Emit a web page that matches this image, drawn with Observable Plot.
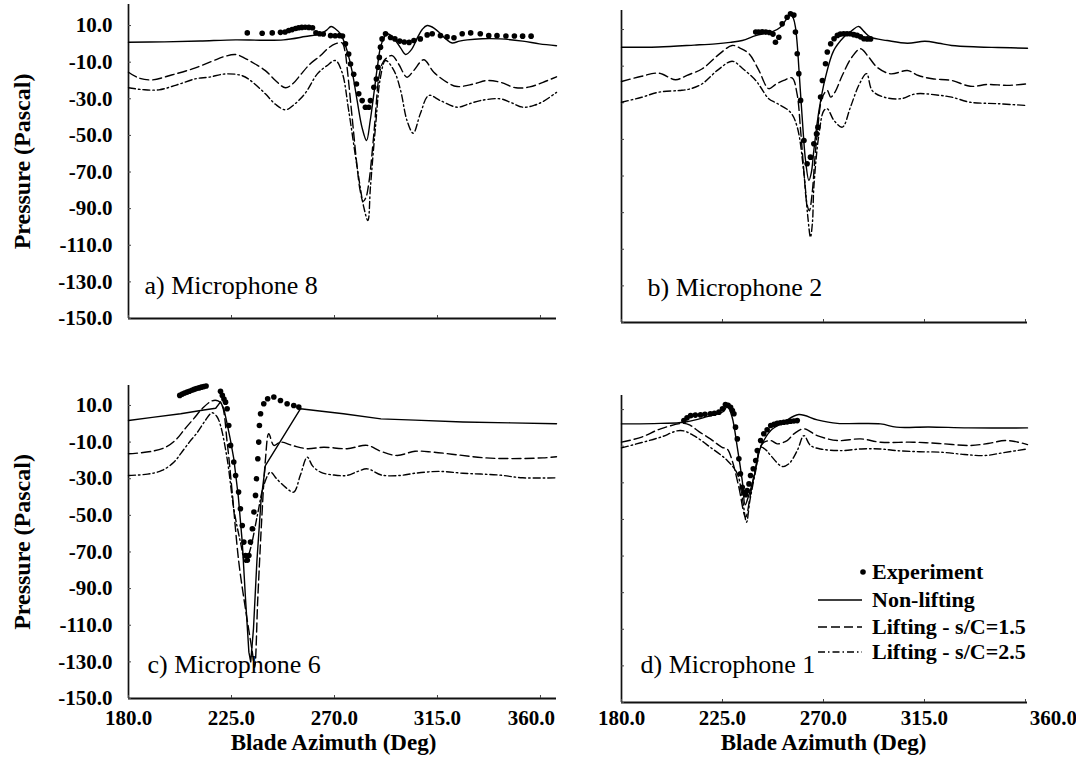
<!DOCTYPE html>
<html>
<head>
<meta charset="utf-8">
<script src="https://cdn.jsdelivr.net/npm/d3@7"></script>
<script src="https://cdn.jsdelivr.net/npm/@observablehq/plot@0.6"></script>
<style>
  body { margin: 0; background: #fff; }
  #root { position: relative; width: 1076px; height: 765px; overflow: hidden; background: #fff;
          font-family: "Liberation Serif", "Times New Roman", serif; }
  .panel { position: absolute; }
  .leg { position: absolute; font-size: 22px; font-weight: bold; color: #000; white-space: nowrap; line-height: 1; }
</style>
</head>
<body>
<div id="root"></div>
<script>
// ---------- axis ticks & labels ----------
const xTicks = [180, 225, 270, 315, 360];
const yTicks = [10, -10, -30, -50, -70, -90, -110, -130, -150];
const xEndLeft = 367.0;   // left-column axes run a little past 360
const xEndRight = 360.9;
const seriesNames = ["Experiment", "Non-lifting", "Lifting - s/C=1.5", "Lifting - s/C=2.5"];
const panelLabels = ["a) Microphone 8", "b) Microphone 2", "c) Microphone 6", "d) Microphone 1"];
const xTitle = "Blade Azimuth (Deg)";
const yTitle = "Pressure (Pascal)";

// ---------- a) Microphone 8  ([azimuth deg, pressure Pa]) ----------
const mic8Exp = [[231.9,6],[238.4,5.8],[242.8,6],[246.4,6.3],[248.4,6.5],[250.0,7.3],[251.5,7.8],[253.0,8.4],[254.3,8.8],[255.7,9],[257.2,9.1],[258.8,9],[260.4,8.8],[261.9,6],[263.5,5.5],[265.1,5.4],[268.3,4.5],[270.3,4.4],[272.2,4.5],[273.5,4.3],[274.8,0],[276.2,-5.5],[277.0,-11],[278.4,-16.6],[279.6,-21.9],[280.6,-27.3],[282.1,-31],[283.5,-34.6],[285.0,-34.6],[285.7,-31],[287.2,-23.7],[288.3,-19.2],[289.0,-12.8],[289.6,-7.4],[290.1,-1.8],[290.8,2.7],[292.3,5.5],[294.5,3.5],[296.4,2.7],[298.5,1.5],[300.5,1],[302.6,0.8],[304.7,1.8],[307.5,2.7],[310.5,4.9],[312.7,5.5],[316.3,4.5],[319.2,3.8],[322.2,3.3],[325.8,5.5],[329.5,6],[333.7,5.5],[337.4,4.5],[341.0,4.5],[344.9,4.3],[348.6,4.3],[352.2,4.2],[355.9,4.2]];
const mic8NonLift = [[180,0.9],[195.7,1.1],[211.3,1.6],[226.8,2.2],[237.4,2.0],[247.8,2.2],[257.2,4.0],[263.9,5.5],[266.6,7.5],[268.5,9.5],[270.6,8.0],[272.6,5.5],[274.1,1.5],[275.5,-3.7],[277.7,-15],[279.9,-31],[282.1,-46],[284.0,-52.8],[285.6,-42],[287.2,-27.3],[288.7,-13],[290.1,-1.8],[291.7,3.5],[293.0,5.5],[294.8,4.5],[296.7,1.8],[299.0,-2.5],[301.1,-5.8],[303.7,-3],[306.3,3.5],[308.4,8],[310.5,10],[313.6,8.5],[316.3,5.5],[318.8,2.5],[321.4,0.5],[324.6,1.5],[328.0,2.2],[334.5,2.8],[342.5,2.7],[352.2,1.5],[359.5,0],[367.0,-1]];
const mic8Lift15 = [[180,-15.5],[184.2,-18.5],[190.3,-19.7],[198.8,-17],[207.9,-13.7],[216.5,-9.5],[221.7,-7],[226.8,-5.8],[231.1,-8],[235.3,-11],[239.8,-14.6],[244.2,-20],[248.6,-24],[252.0,-21.5],[255.1,-17],[259.3,-11],[263.9,-6.4],[267.1,-2.5],[270.3,0],[273.3,0.5],[274.6,-4],[275.5,-12.8],[277.7,-40],[279.9,-67.4],[281.2,-80],[282.5,-86],[283.7,-84],[285.0,-76],[287.2,-49.2],[289.4,-18.2],[290.8,-11],[292.3,-8.2],[295.2,-6.4],[298.0,-11],[301.7,-18.2],[304.6,-14.6],[309.0,-8.7],[313.4,-15.5],[319.2,-21],[323.6,-23.3],[330.8,-21.9],[336.7,-20],[342.5,-21],[349.3,-24],[355.3,-23.5],[361.1,-21],[367.0,-18]];
const mic8Lift25 = [[180,-24],[186.3,-25],[193.3,-25.1],[200.9,-22.5],[209.5,-19],[215.1,-18.2],[222.4,-16.4],[229.7,-17.4],[234.3,-21],[239.8,-27.3],[244.2,-33],[248.6,-36],[252.5,-33],[257.2,-27],[262.5,-16.4],[266.6,-12],[270.4,-9.1],[273.3,-15.5],[276.2,-36.4],[279.9,-67.4],[282.8,-89.2],[284.6,-96.5],[285.7,-78.3],[287.9,-45.5],[290.1,-18.2],[292.3,-9.1],[296.0,-14.6],[298.9,-25.5],[301.7,-41.9],[304.4,-48.8],[307.5,-38.2],[311.2,-28.2],[316.3,-31],[323.6,-34.6],[328.2,-33],[333.7,-31],[342.5,-30],[347.0,-32],[352.3,-34.6],[357.4,-33.5],[361.1,-31.5],[367.0,-26.5]];

// ---------- b) Microphone 2 ----------
const mic2Exp = [[239.8,8.6],[241.1,8.6],[242.7,8.8],[244.3,8.6],[245.9,8.4],[247.5,7.5],[248.6,3.1],[250.1,5.8],[251.6,13.1],[253.8,16.7],[255.3,18.6],[256.8,17.9],[257.5,8.6],[258.3,-3.2],[259.0,-14.1],[259.8,-28.7],[261.3,-50.6],[262.7,-63.3],[264.2,-59.7],[265.7,-52.4],[266.9,-47],[267.5,-43.3],[268.7,-26.9],[269.5,-17.8],[270.9,-8.7],[271.7,-2.3],[273.2,2.2],[274.7,5],[276.2,6.8],[277.5,7.5],[279.0,7.7],[280.5,7.7],[282.0,7.7],[283.5,7.2],[285.0,6.8],[286.5,6],[288.0,5],[289.5,4.9],[291.0,4.9]];
const mic2NonLift = [[180,0.3],[196.4,0.5],[212.4,1.5],[221.9,2.2],[228.4,3],[233.8,4],[239.8,6.7],[244.3,8],[247.5,9],[250.8,11.3],[253.4,15.5],[255.3,18.2],[256.6,16],[257.5,11.3],[258.3,2],[259.0,-10.6],[260.5,-37.9],[262.0,-61.5],[263.5,-72.4],[264.6,-68],[265.7,-56],[268.0,-34.2],[270.9,-16],[274.6,-1.4],[279.0,5.8],[282.7,9.5],[285.7,11.7],[288.0,9],[291.0,5.8],[298.4,4],[307.4,2.5],[315.2,3.6],[321.4,2.5],[327.1,1.3],[338.9,0.5],[347.7,0.2],[360.9,-0.2]];
const mic2Lift15 = [[180,-18.4],[189.0,-15.5],[196.6,-13.8],[204.1,-17.4],[209.2,-15],[216.0,-11.4],[223.0,-4],[229.3,1.3],[232.6,0],[236.8,-3.2],[241.1,-12],[245.6,-22.3],[248.6,-20],[252.3,-17.8],[256.0,-16.4],[258.2,-25],[259.8,-45],[261.3,-68],[262.6,-85],[263.7,-89],[264.9,-80],[266.2,-60],[267.2,-47],[269.5,-26.9],[271.7,-23.3],[273.2,-26.9],[275.2,-24],[278.4,-15],[282.7,-5],[286.5,-0.5],[290.1,-5],[293.9,-10.6],[299.9,-14.2],[307.4,-12.4],[312.3,-15.1],[318.5,-16.9],[327.1,-17.8],[335.4,-21],[343.3,-20],[352.1,-20.5],[360.9,-19.6]];
const mic2Lift25 = [[180,-29.7],[189.0,-27],[196.6,-24.2],[205.6,-23.3],[210.3,-22.5],[216.0,-19.6],[223.0,-12],[229.3,-7.3],[233.7,-11],[239.8,-17.8],[242.0,-21.5],[245.6,-27.8],[249.4,-30.4],[255.3,-35.2],[258.3,-43.3],[261.3,-68.8],[263.0,-92],[264.2,-103.4],[265.1,-95],[265.7,-76.1],[268.0,-47],[270.2,-34.2],[271.7,-33.3],[274.7,-39.7],[278.4,-43.3],[282.0,-32.4],[285.9,-20],[289.2,-14.1],[291.7,-23.3],[296.9,-26.9],[304.4,-27.8],[311.2,-25.1],[322.2,-26],[327.1,-26.9],[335.4,-29.7],[347.7,-30.5],[360.9,-31.5]];

// ---------- c) Microphone 6 ----------
const mic6Exp = [[202.4,15.5],[203.5,16.2],[204.5,16.8],[205.6,17.3],[206.6,17.8],[207.7,18.3],[208.7,18.8],[209.7,19.2],[210.8,19.6],[211.8,20],[212.9,20.3],[213.9,20.6],[220.2,17.7],[221.0,15.5],[221.7,13.5],[222.4,11.8],[223.1,8.2],[223.8,-0.9],[224.6,-11.8],[226.0,-20.9],[226.8,-28.2],[228.1,-37.3],[228.9,-46.4],[229.7,-55.5],[230.4,-64.6],[231.1,-71.9],[231.9,-74.5],[232.6,-71.9],[233.3,-64.6],[234.1,-57.3],[234.8,-48.2],[235.5,-39.1],[235.9,-30],[236.5,-19.1],[236.9,-10],[237.2,-0.9],[237.7,5.5],[239.1,10.9],[240.8,13.7],[243.5,14.6],[246.4,12.7],[249.3,10.9],[252.2,10],[254.4,9.1]];
const mic6NonLift = [[180,1.8],[190.4,3.5],[202.8,5.5],[212.9,7.5],[218.1,8.5],[220.2,12],[221.7,8],[223.1,0],[224.4,-8],[226.0,-19],[228.0,-40],[229.7,-64.6],[231.1,-95],[232.6,-124.7],[233.4,-130],[234.6,-112],[236.1,-75],[237.9,-42],[239.8,-22.8],[255.1,8.2],[263.5,7],[273.9,5.5],[290.3,2.7],[305.2,2],[326.1,1],[347.0,0.5],[367.0,0]];
const mic6Lift15 = [[180,-16.4],[190.4,-15],[196.7,-12.5],[200.9,-8.5],[204.5,-3],[208.5,2.8],[212.4,8.5],[216.5,12.5],[219.1,12.5],[220.9,10],[223.1,-10],[225.3,-37.3],[228.2,-75.6],[231.1,-101],[234.1,-124.7],[235.1,-133],[236.5,-95],[238.3,-50],[239.8,-20],[241.3,-5.4],[243.5,-11.8],[246.4,-10],[252.0,-12],[258.1,-13.6],[265.3,-12.8],[275.5,-13.6],[284.3,-11.8],[290.2,-15],[297.4,-17.3],[305.2,-15],[313.1,-15.5],[324.0,-17],[335.7,-18.6],[347.0,-19],[361.1,-18.6],[367.0,-18]];
const mic6Lift25 = [[180,-28.2],[188.3,-27.5],[194.6,-25.5],[199.8,-21],[203.0,-16],[206.6,-10],[209.9,-5],[213.4,1.5],[216.5,6],[218.6,4],[220.2,-0.9],[223.1,-19.1],[226.0,-46.4],[228.9,-64.6],[231.1,-75.6],[233.3,-68.2],[236.3,-50],[239.1,-33.7],[242.0,-26.4],[244.7,-30],[248.9,-35],[252.2,-37.3],[255.1,-28],[258.1,-18.2],[260.4,-23],[263.9,-26.4],[269.8,-28],[275.5,-28.2],[280.2,-26],[284.3,-24.6],[290.6,-28],[298.9,-28.2],[305.2,-27],[315.7,-26],[326.1,-27],[341.8,-28],[352.2,-29.5],[367.0,-29.5]];

// ---------- d) Microphone 1 ----------
const mic1Exp = [[207.8,4],[209.2,5.5],[210.8,6.7],[212.9,7],[215.2,7.1],[217.2,7.4],[219.6,7.7],[221.4,8],[223.4,8.6],[225.0,10.5],[226.3,12.8],[227.5,12.3],[228.6,11.3],[229.4,9.5],[230.1,7.7],[230.8,0.4],[231.6,-6],[232.3,-16.9],[233.0,-25.1],[233.8,-32.4],[234.5,-35.2],[235.3,-36.5],[236.0,-34.2],[236.8,-30.6],[237.5,-26],[238.7,-22.3],[239.8,-17.8],[240.5,-12.4],[242.0,-6.9],[243.4,-3.2],[244.9,-1],[246.5,1.3],[248.0,2],[249.4,2.5],[250.8,2.8],[252.3,3.1],[253.8,3.3],[255.3,3.6],[256.8,3.8],[258.3,4]];
const mic1NonLift = [[180,2.2],[197.4,2.5],[207.8,3.1],[217.7,6],[225.6,9.1],[227.1,12.2],[229.3,5.8],[231.6,-10.6],[233.8,-28.8],[235.1,-42],[236.4,-38],[239.0,-26.9],[242.0,-10.6],[246.5,-1.4],[252.3,3.1],[259.0,7.3],[267.2,4.4],[276.2,2.5],[295.4,2.2],[302.5,0.4],[317.0,0.5],[334.5,0],[360.9,0]];
const mic1Lift15 = [[180,-7.8],[189.0,-5],[197.4,-0.5],[207.8,2.5],[210.8,1.3],[214.5,-2],[219.6,-6],[224.8,-10.6],[227.1,-11.5],[229.3,-17.8],[232.3,-32.4],[235.3,-48.8],[237.5,-36],[239.8,-21.5],[242.7,-8.7],[246.5,-6.9],[249.4,-8.7],[253.8,-6.9],[257.1,-3],[261.3,-0.5],[267.2,-4.2],[276.2,-6.9],[286.5,-6],[295.4,-7.8],[309.9,-7.8],[321.4,-8.5],[335.5,-9.6],[343.3,-8.5],[350.9,-6.9],[355.6,-7.5],[360.9,-9.1]];
const mic1Lift25 = [[180,-10.9],[189.0,-8],[197.4,-5.1],[206.3,-1.4],[212.2,-4.2],[219.6,-10.6],[227.1,-17.8],[231.6,-25.1],[233.8,-37.9],[235.7,-51.5],[237.2,-39.7],[239.8,-23.3],[242.0,-10.6],[244.3,-12],[246.5,-15.1],[251.6,-21.1],[254.6,-19.6],[258.3,-12.4],[261.3,-4.2],[264.2,-9.6],[268.7,-11.5],[277.5,-12.4],[286.9,-11.5],[295.4,-11.5],[302.5,-12.4],[312.6,-13],[322.7,-13.3],[332.8,-14.5],[341.9,-15.1],[350.3,-13.5],[360.9,-11.5]];

// ---------- drawing ----------
const FAM = "Liberation Serif, Times New Roman, serif";
const xy = {x: d => d[0], y: d => d[1]};
const fmt = d => d.toFixed(1);
const boldText = {fontWeight: "bold", fontFamily: FAM, fill: "#000"};

function makePanel(cfg) {
  const marks = [
    Plot.ruleX([xTicks[0]], {stroke: "#111", strokeWidth: 1.7}),
    Plot.ruleY([yTicks[yTicks.length - 1]], {stroke: "#111", strokeWidth: 1.9}),
    Plot.axisY(yTicks, {tickSize: -3, tickFormat: () => "", label: null, stroke: "#444"}),
    Plot.axisX(xTicks, {tickSize: -3, tickFormat: () => "", label: null, stroke: "#444"}),
    Plot.line(cfg.nonLift, {...xy, stroke: "#000", strokeWidth: 1.4, curve: cfg.nonLiftCurve || "catmull-rom"}),
    Plot.line(cfg.lift15, {...xy, stroke: "#000", strokeWidth: 1.4, strokeDasharray: "9,4", curve: "catmull-rom"}),
    Plot.line(cfg.lift25, {...xy, stroke: "#000", strokeWidth: 1.4, strokeDasharray: "7,3,1.5,3", curve: "catmull-rom"}),
    Plot.dot(cfg.exp, {...xy, r: 2.8, fill: "#000"}),
    Plot.text([cfg.label], {text: d => d, frameAnchor: "bottom-left", textAnchor: "start", lineAnchor: "bottom",
      dx: cfg.labelDx, dy: cfg.labelDy, fontSize: 26, fontFamily: FAM, fill: "#000"})
  ];
  if (cfg.showY) {
    marks.push(Plot.axisY(yTicks, {tickSize: 0, tickPadding: 16, tickFormat: fmt, label: null, fontSize: 21, ...boldText}));
    marks.push(Plot.text([yTitle], {text: d => d, frameAnchor: "left", textAnchor: "middle", lineAnchor: "middle",
      rotate: -90, dx: -106, fontSize: 24, ...boldText}));
  }
  if (cfg.showX) {
    marks.push(Plot.axisX(xTicks.slice(0, -1), {tickSize: 0, tickPadding: cfg.xPad, tickFormat: fmt, label: null, fontSize: 21, ...boldText}));
    marks.push(Plot.axisX(xTicks.slice(-1), {tickSize: 0, tickPadding: cfg.xPad, tickFormat: fmt, label: null,
      dx: cfg.lastDx, fontSize: 21, ...boldText}));
    marks.push(Plot.text([xTitle], {text: d => d, frameAnchor: "bottom", textAnchor: "middle", dx: cfg.titleDx, dy: cfg.titleDy,
      lineAnchor: "middle", fontSize: 23, ...boldText}));
  }
  const svg = Plot.plot({
    width: cfg.width, height: cfg.height,
    marginLeft: cfg.mL, marginRight: cfg.mR, marginTop: cfg.mT, marginBottom: cfg.mB,
    x: {domain: [xTicks[0], cfg.xEnd]},
    y: {domain: [yTicks[yTicks.length - 1], cfg.yTop]},
    style: {background: "transparent", fontFamily: FAM, overflow: "visible"},
    marks
  });
  svg.classList.add("panel");
  svg.style.left = cfg.left + "px";
  svg.style.top = cfg.top + "px";
  return svg;
}

const root = document.getElementById("root");
root.appendChild(makePanel({exp: mic8Exp, nonLift: mic8NonLift, lift15: mic8Lift15, lift25: mic8Lift25,
  label: panelLabels[0], left: 0, top: 0, width: 575, height: 370, mL: 128, mR: 19, mT: 4, mB: 52,
  xEnd: xEndLeft, yTop: 21.5, showY: true, showX: false, labelDx: 16, labelDy: -25}));
root.appendChild(makePanel({exp: mic2Exp, nonLift: mic2NonLift, lift15: mic2Lift15, lift25: mic2Lift25,
  label: panelLabels[1], left: 575, top: 0, width: 501, height: 370, mL: 46, mR: 49, mT: 10, mB: 48,
  xEnd: xEndRight, yTop: 20.4, showY: false, showX: false, labelDx: 26, labelDy: -27}));
root.appendChild(makePanel({exp: mic6Exp, nonLift: mic6NonLift, lift15: mic6Lift15, lift25: mic6Lift25,
  nonLiftCurve: "linear",
  label: panelLabels[2], left: 0, top: 370, width: 575, height: 395, mL: 128, mR: 19, mT: 15, mB: 67,
  xEnd: xEndLeft, yTop: 20.9, showY: true, showX: true, xPad: 12, lastDx: -9, titleDx: -9, titleDy: 44,
  labelDx: 19, labelDy: -26}));
root.appendChild(makePanel({exp: mic1Exp, nonLift: mic1NonLift, lift15: mic1Lift15, lift25: mic1Lift25,
  label: panelLabels[3], left: 575, top: 370, width: 501, height: 395, mL: 46, mR: 49, mT: 25, mB: 63,
  xEnd: xEndRight, yTop: 17.7, showY: false, showX: true, xPad: 8, lastDx: 28, titleDx: -1, titleDy: 40,
  labelDx: 19, labelDy: -30}));

// ---------- legend (inside panel d) ----------
const legendRows = [
  {name: seriesNames[0], kind: "dot", cy: 572},
  {name: seriesNames[1], kind: "solid", cy: 600},
  {name: seriesNames[2], kind: "dash", cy: 627},
  {name: seriesNames[3], kind: "dashdot", cy: 652}
];
const dashFor = {solid: null, dash: "9,4", dashdot: "7,3,1.5,3"};
const NS = "http://www.w3.org/2000/svg";
for (const row of legendRows) {
  const s = document.createElementNS(NS, "svg");
  s.setAttribute("width", 56); s.setAttribute("height", 12);
  s.style.position = "absolute"; s.style.left = "814px"; s.style.top = (row.cy - 6) + "px";
  if (row.kind === "dot") {
    const c = document.createElementNS(NS, "circle");
    c.setAttribute("cx", 49); c.setAttribute("cy", 6); c.setAttribute("r", 2.8); c.setAttribute("fill", "#000");
    s.appendChild(c);
  } else {
    const l = document.createElementNS(NS, "line");
    l.setAttribute("x1", 4); l.setAttribute("x2", 48); l.setAttribute("y1", 6); l.setAttribute("y2", 6);
    l.setAttribute("stroke", "#000"); l.setAttribute("stroke-width", 1.4);
    if (dashFor[row.kind]) l.setAttribute("stroke-dasharray", dashFor[row.kind]);
    s.appendChild(l);
  }
  root.appendChild(s);
  const t = document.createElement("div");
  t.className = "leg";
  t.textContent = row.name;
  t.style.left = "872px";
  t.style.top = (row.cy - 11) + "px";
  root.appendChild(t);
}
</script>
</body>
</html>
